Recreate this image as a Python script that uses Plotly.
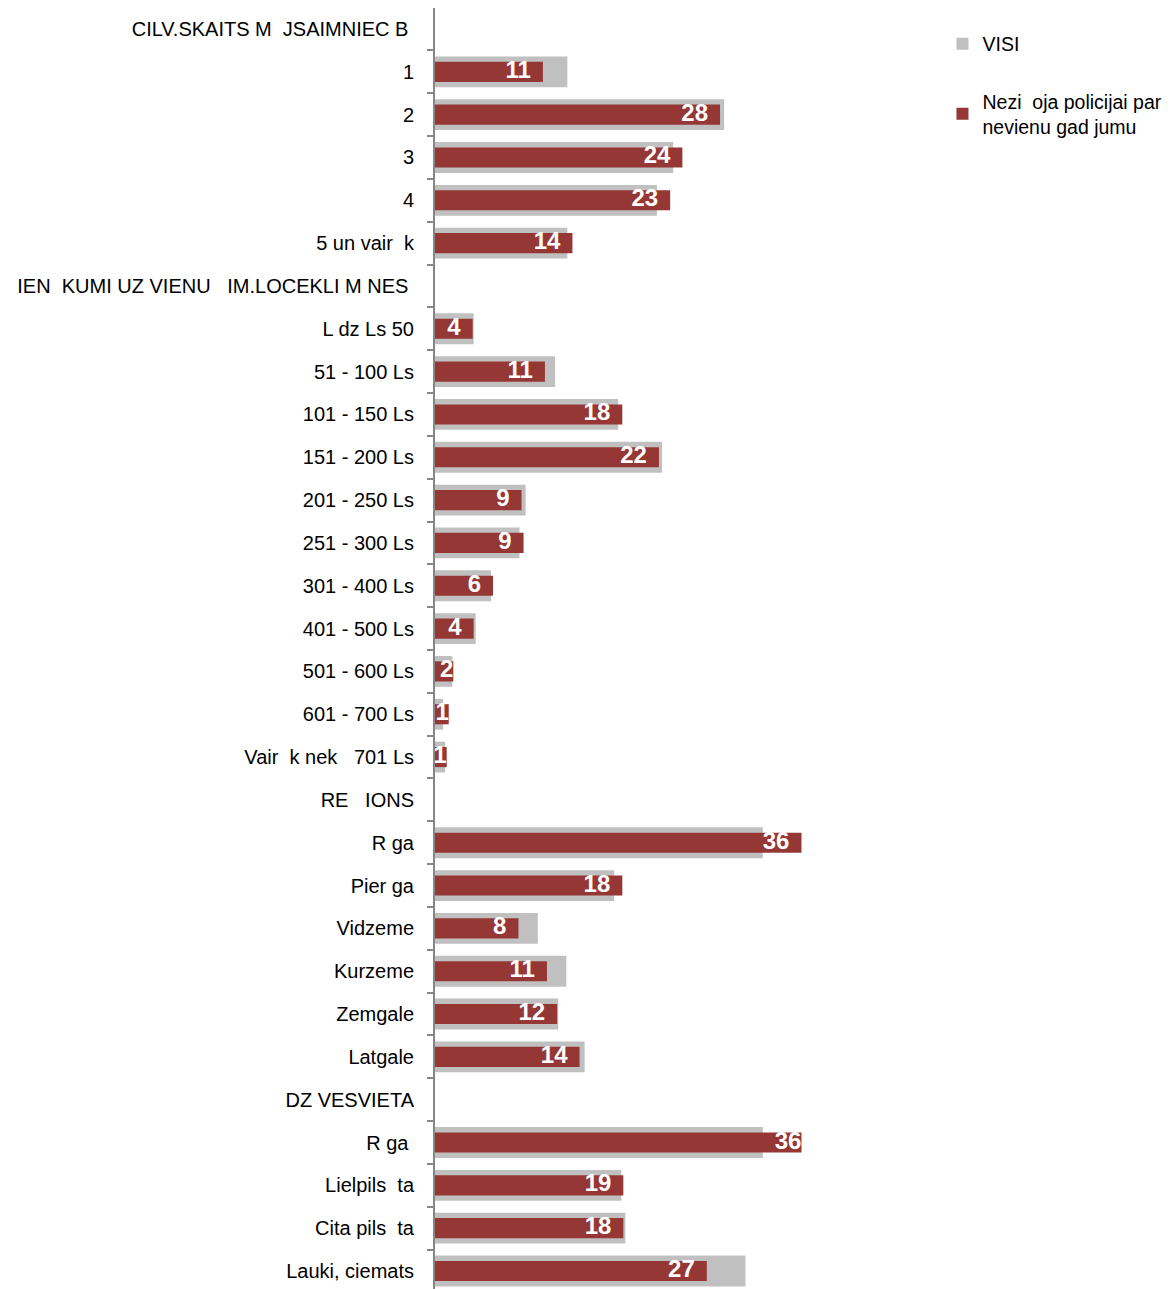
import plotly.graph_objects as go

categories = [
    "CILV.SKAITS M  JSAIMNIEC B ",
    "1", "2", "3", "4", "5 un vair  k",
    "IEN  KUMI UZ VIENU   IM.LOCEKLI M NES ",
    "L dz Ls 50", "51 - 100 Ls", "101 - 150 Ls", "151 - 200 Ls", "201 - 250 Ls",
    "251 - 300 Ls", "301 - 400 Ls", "401 - 500 Ls", "501 - 600 Ls", "601 - 700 Ls",
    "Vair  k nek   701 Ls",
    "RE   IONS",
    "R ga", "Pier ga", "Vidzeme", "Kurzeme", "Zemgale", "Latgale",
    "DZ VESVIETA",
    "R ga ", "Lielpils  ta", "Cita pils  ta", "Lauki, ciemats",
]

visi = [None, 13.0, 28.4, 23.4, 21.8, 13.0,
        None, 3.8, 11.8, 18.0, 22.3, 8.9, 8.3, 5.5, 4.0, 1.7, 0.8, 1.0,
        None, 32.2, 17.6, 10.1, 12.9, 12.1, 14.7,
        None, 32.2, 18.3, 18.7, 30.5]

nezi = [None, 10.6, 28.0, 24.3, 23.1, 13.5,
        None, 3.7, 10.8, 18.4, 22.0, 8.5, 8.7, 5.7, 3.8, 1.8, 1.35, 1.15,
        None, 36.0, 18.4, 8.2, 11.0, 12.0, 14.2,
        None, 36.0, 18.5, 18.5, 26.7]

labels = [None, "11", "28", "24", "23", "14",
          None, "4", "11", "18", "22", "9", "9", "6", "4", "2", "1", "1",
          None, "36", "18", "8", "11", "12", "14",
          None, "36", "19", "18", "27"]

# styling: labels on very short bars (and the last Riga bar) sit flush at the bar end
flush = [False] * len(labels)
for i in (15, 16, 17, 26):
    flush[i] = True
shown_labels = [None if t is None else (t if f else t + "\u2002")
                for t, f in zip(labels, flush)]

FONT = "Liberation Sans, Arial, sans-serif"

fig = go.Figure()
fig.add_trace(go.Bar(
    y=categories, x=visi, orientation="h", name="VISI",
    marker=dict(color="#C0C0C0", line=dict(width=0)),
    width=0.72, legendgroup="a", hoverinfo="x+y",
))
fig.add_trace(go.Bar(
    y=categories, x=nezi, orientation="h",
    name="Nezi  oja policijai par<br>nevienu gad jumu",
    marker=dict(color="#953735", line=dict(width=0)),
    width=0.47, legendgroup="b", hoverinfo="x+y",
))
fig.add_trace(go.Scatter(
    y=categories, x=nezi, mode="text", text=shown_labels,
    textposition="middle left",
    textfont=dict(family=FONT, size=24, color="white", weight="bold"),
    showlegend=False, hoverinfo="skip",
))

fig.update_layout(
    width=1162, height=1281,
    margin=dict(l=427, r=226, t=0, b=0, autoexpand=False),
    paper_bgcolor="white", plot_bgcolor="white",
    barmode="overlay",
    font=dict(family=FONT, size=20, color="black"),
    showlegend=True,
    legend=dict(x=0.997, y=0.987, xanchor="left", yanchor="top",
                font=dict(family=FONT, size=19.5, color="black"),
                tracegroupgap=29, bgcolor="rgba(0,0,0,0)"),
    xaxis=dict(range=[0, 50], showgrid=False, zeroline=False,
               showticklabels=False, showline=False, ticks="", automargin=False),
    yaxis=dict(type="category", categoryorder="array", categoryarray=categories,
               range=[29.42, -0.49], showgrid=False, zeroline=False,
               showline=True, linecolor="#868686", linewidth=2,
               ticks="outside", tickson="boundaries", ticklen=6,
               tickcolor="#868686", tickwidth=2, ticklabelstandoff=15,
               automargin=False,
               tickfont=dict(family=FONT, size=20, color="black")),
)

fig.write_html("out.html")
